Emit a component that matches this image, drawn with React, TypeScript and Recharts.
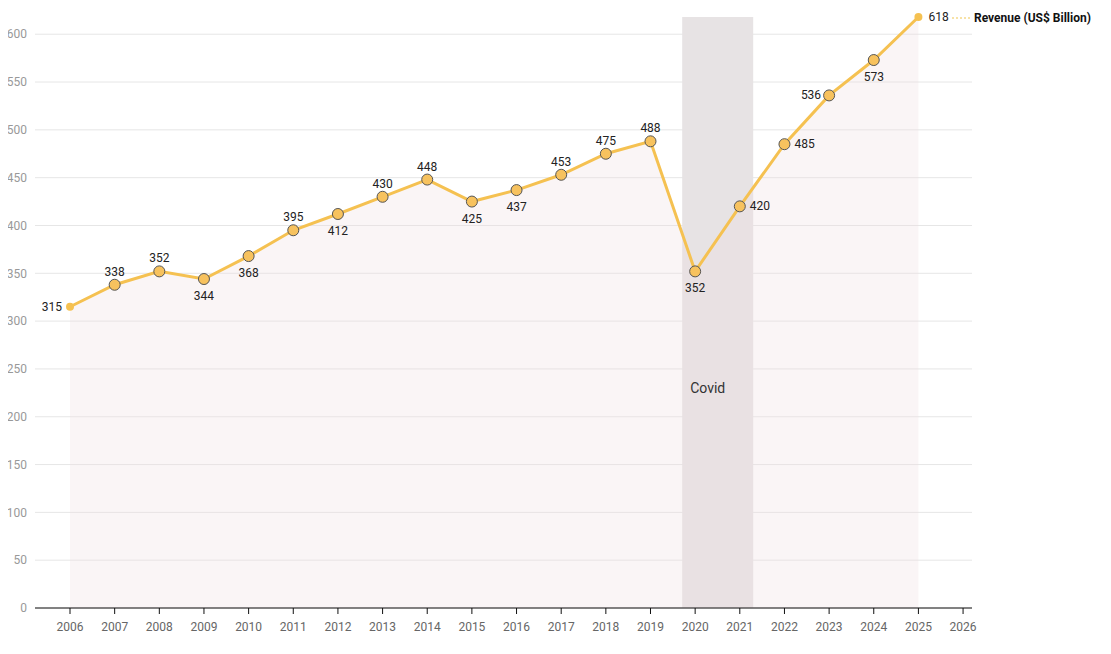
import { ComposedChart, Area, XAxis, YAxis, CartesianGrid, ReferenceArea, LabelList } from 'recharts';

const years = [2006, 2007, 2008, 2009, 2010, 2011, 2012, 2013, 2014, 2015, 2016, 2017, 2018, 2019, 2020, 2021, 2022, 2023, 2024, 2025];
const revenue = [315, 338, 352, 344, 368, 395, 412, 430, 448, 425, 437, 453, 475, 488, 352, 420, 485, 536, 573, 618];
const xTicks = [2006, 2007, 2008, 2009, 2010, 2011, 2012, 2013, 2014, 2015, 2016, 2017, 2018, 2019, 2020, 2021, 2022, 2023, 2024, 2025, 2026];
const yTicks = [0, 50, 100, 150, 200, 250, 300, 350, 400, 450, 500, 550, 600];

// where each value label sits relative to its point
const labelSide = ['left', 'top', 'top', 'bottom', 'bottom', 'top', 'bottom', 'top', 'top', 'bottom', 'bottom', 'top', 'top', 'top', 'bottom', 'right', 'right', 'left', 'bottom', 'right'];

const data = years.map((year, i) => ({ year, revenue: revenue[i] }));

const LINE = '#f5c151';

const renderDot = (props: any) => {
    const { cx, cy, index } = props;
    if (cx == null || cy == null) return <g key={`d${index}`} />;
    if (index === 0 || index === years.length - 1) {
        return <circle key={`d${index}`} cx={cx} cy={cy} r={4} fill={LINE} stroke="none" />;
    }
    return <circle key={`d${index}`} cx={cx} cy={cy} r={5.5} fill="#f7c25e" stroke="#555" strokeWidth={1} />;
};

const renderLabel = (props: any) => {
    const { x, y, value, index } = props;
    const side = labelSide[index];
    let tx = x, ty = y, anchor: 'middle' | 'start' | 'end' = 'middle';
    if (side === 'top') ty = y - 13;
    if (side === 'bottom') ty = y + 17;
    if (side === 'left') { tx = x - 8; anchor = 'end'; }
    if (side === 'right') { tx = x + 10; anchor = 'start'; }
    return (
        <text key={`l${index}`} x={tx} y={ty} textAnchor={anchor} dominantBaseline="central" fontSize={12} fill="#222" fontFamily="Roboto">
            {value}
        </text>
    );
};

export default function App() {
    return (
        <div style={{ position: 'relative', width: 1100, height: 646, fontFamily: 'Roboto' }}>
            <ComposedChart width={1100} height={646} data={data} margin={{ top: 9, right: 136, left: 0, bottom: 16 }}>
                <CartesianGrid vertical={false} stroke="#e6e6e6" syncWithTicks />
                <XAxis
                    dataKey="year"
                    type="number"
                    domain={[2005.216, 2026.2]}
                    ticks={xTicks}
                    interval={0}
                    stroke="#111"
                    tickSize={6}
                    tickMargin={8}
                    height={30}
                    tick={{ fill: '#666', fontSize: 12, fontFamily: 'Roboto' }}
                />
                <YAxis
                    domain={[0, 618]}
                    ticks={yTicks}
                    width={27}
                    axisLine={false}
                    tickLine={false}
                    tick={{ fill: '#999', fontSize: 12, fontFamily: 'Roboto' }}
                />
                <ReferenceArea
                    x1={2019.71}
                    x2={2021.3}
                    y1={0}
                    y2={618}
                    fill="#e7e3e4"
                    fillOpacity={1}
                    stroke="none"
                    label={{ value: 'Covid', position: 'insideLeft', dy: 76, offset: 8, fill: '#333', fontSize: 14, fontFamily: 'Roboto' }}
                />
                <Area
                    type="linear"
                    dataKey="revenue"
                    name="Revenue (US$ Billion)"
                    stroke={LINE}
                    strokeWidth={3}
                    fill="#f0dde0"
                    fillOpacity={0.3}
                    dot={renderDot}
                    activeDot={false}
                    isAnimationActive={false}
                >
                    <LabelList dataKey="revenue" content={renderLabel} />
                </Area>
            </ComposedChart>
            <div style={{ position: 'absolute', top: 3, left: 944, display: 'flex', alignItems: 'center', fontSize: 12, fontWeight: 700, color: '#111', whiteSpace: 'nowrap' }}>
                <svg width={18} height={4} style={{ marginRight: 4 }}>
                    <line x1={0} y1={2} x2={18} y2={2} stroke="#f5d98a" strokeWidth={1.5} strokeDasharray="2 2" />
                </svg>
                Revenue (US$ Billion)
            </div>
        </div>
    );
}
